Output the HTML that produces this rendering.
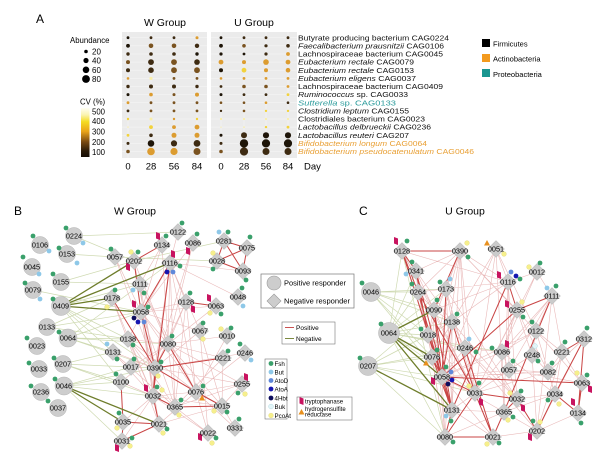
<!DOCTYPE html>
<html><head><meta charset="utf-8">
<style>
html,body{margin:0;padding:0;background:#fff;}
svg{display:block;font-family:"Liberation Sans",Arial,sans-serif;}
.K{fill:#1e1508}.D{fill:#3e2b12}.B{fill:#7a5320}.O{fill:#dc9c30}.Y{fill:#f2d23c}.P{fill:#f9efaa}
.lg{stroke:#cfdab2;stroke-width:0.7;fill:none}
.dg{stroke:#6e7d2b;stroke-width:1.3;fill:none}
.lr{stroke:#e9b9b9;stroke-width:0.6;fill:none}
.dr{stroke:#c94444;stroke-width:1.0;fill:none}
.nc{fill:#cdcdcd;stroke:#b3b3b3;stroke-width:0.5}
.nl{font-size:7.3px;text-anchor:middle;fill:#000}
.sp{font-size:7.5px;fill:#111}
</style></head>
<body>
<svg width="600" height="455" viewBox="0 0 600 455" xmlns="http://www.w3.org/2000/svg">
<defs>
<polygon id="dm" points="0,-8.5 8.5,0 0,8.5 -8.5,0" fill="#cbcbcb" stroke="#b3b3b3" stroke-width="0.5"/>
<circle id="g" r="2.4" fill="#3aa06b"/>
<circle id="bu" r="2.4" fill="#8ec8e8"/>
<circle id="ad" r="2.4" fill="#5f88da"/>
<circle id="aa" r="2.4" fill="#1616b0"/>
<circle id="hb" r="2.4" fill="#0c0c5c"/>
<circle id="bk" r="2.4" fill="#e2f5f8" stroke="#9fd0dc" stroke-width="0.4"/>
<circle id="y" r="2.4" fill="#f6ef8c" stroke="#d8d070" stroke-width="0.3"/>
<polygon id="tp" points="-2,-4 2,-2.5 2,4 -2,2.5" fill="#c8135f"/>
<polygon id="tr" points="0,-3 3,2.5 -3,2.5" fill="#e8901e"/>
<linearGradient id="cv" x1="0" y1="0" x2="0" y2="1">
<stop offset="0" stop-color="#fffff4"/><stop offset="0.14" stop-color="#fbf4b0"/><stop offset="0.28" stop-color="#f5dc22"/><stop offset="0.48" stop-color="#e9a318"/><stop offset="0.69" stop-color="#7a4a12"/><stop offset="0.88" stop-color="#2a1a08"/><stop offset="1" stop-color="#140c04"/>
</linearGradient>
</defs>

<!-- ========== PANEL A ========== -->
<text x="36" y="23" font-size="12">A</text>
<text x="165" y="26" font-size="10.5" text-anchor="middle">W Group</text>
<text x="254" y="26" font-size="10.5" text-anchor="middle">U Group</text>
<rect x="122" y="32" width="85" height="126" fill="#ebebeb"/>
<rect x="211" y="32" width="86" height="126" fill="#ebebeb"/>
<g stroke="#f7f7f7" stroke-width="0.5">
<path d="M122 37.7H207M122 45.8H207M122 54H207M122 62.1H207M122 70.2H207M122 78.4H207M122 86.5H207M122 94.6H207M122 102.7H207M122 110.9H207M122 119H207M122 127.1H207M122 135.3H207M122 143.4H207M122 151.5H207"/>
<path d="M211 37.7H297M211 45.8H297M211 54H297M211 62.1H297M211 70.2H297M211 78.4H297M211 86.5H297M211 94.6H297M211 102.7H297M211 110.9H297M211 119H297M211 127.1H297M211 135.3H297M211 143.4H297M211 151.5H297"/>
<path d="M128 32V158M151 32V158M174 32V158M197 32V158M221 32V158M244 32V158M266 32V158M288 32V158"/>
</g>
<g>
<circle class="K" cx="128" cy="37.7" r="1.4"/><circle class="D" cx="151" cy="37.7" r="1.4"/><circle class="D" cx="174" cy="37.7" r="1.4"/><circle class="O" cx="197" cy="37.7" r="1.5"/><circle class="K" cx="221" cy="37.7" r="1.4"/><circle class="D" cx="244" cy="37.7" r="1.4"/><circle class="D" cx="266" cy="37.7" r="1.4"/><circle class="D" cx="288" cy="37.7" r="1.4"/>
<circle class="K" cx="128" cy="45.8" r="1.9"/><circle class="B" cx="151" cy="45.8" r="2.3"/><circle class="B" cx="174" cy="45.8" r="2.3"/><circle class="D" cx="197" cy="45.8" r="2.2"/><circle class="K" cx="221" cy="45.8" r="1.9"/><circle class="B" cx="244" cy="45.8" r="1.8"/><circle class="D" cx="266" cy="45.8" r="1.6"/><circle class="D" cx="288" cy="45.8" r="1.8"/>
<circle class="D" cx="128" cy="54" r="1.7"/><circle class="D" cx="151" cy="54" r="1.8"/><circle class="D" cx="174" cy="54" r="1.8"/><circle class="K" cx="197" cy="54" r="1.7"/><circle class="K" cx="221" cy="54" r="1.6"/><circle class="K" cx="244" cy="54" r="1.4"/><circle class="D" cx="266" cy="54" r="1.6"/><circle class="O" cx="288" cy="54" r="1.9"/>
<circle class="B" cx="128" cy="62.1" r="2"/><circle class="D" cx="151" cy="62.1" r="2.9"/><circle class="B" cx="174" cy="62.1" r="2.9"/><circle class="D" cx="197" cy="62.1" r="2.8"/><circle class="O" cx="221" cy="62.1" r="2.4"/><circle class="O" cx="244" cy="62.1" r="2"/><circle class="O" cx="266" cy="62.1" r="2.8"/><circle class="O" cx="288" cy="62.1" r="2.4"/>
<circle class="D" cx="128" cy="70.2" r="2"/><circle class="D" cx="151" cy="70.2" r="2.8"/><circle class="B" cx="174" cy="70.2" r="2.9"/><circle class="B" cx="197" cy="70.2" r="2.9"/><circle class="K" cx="221" cy="70.2" r="2"/><circle class="Y" cx="244" cy="70.2" r="2.4"/><circle class="O" cx="266" cy="70.2" r="2"/><circle class="O" cx="288" cy="70.2" r="2.3"/>
<circle class="O" cx="128" cy="78.4" r="1.3"/><circle class="P" cx="151" cy="78.4" r="1.6"/><circle class="B" cx="174" cy="78.4" r="1.4"/><circle class="B" cx="197" cy="78.4" r="1.4"/><circle class="O" cx="221" cy="78.4" r="1.3"/><circle class="O" cx="244" cy="78.4" r="1.4"/><circle class="O" cx="266" cy="78.4" r="1.4"/><circle class="O" cx="288" cy="78.4" r="1.4"/>
<circle class="D" cx="128" cy="86.5" r="1.7"/><circle class="D" cx="151" cy="86.5" r="2"/><circle class="D" cx="174" cy="86.5" r="2"/><circle class="D" cx="197" cy="86.5" r="1.7"/><circle class="D" cx="221" cy="86.5" r="1.4"/><circle class="B" cx="244" cy="86.5" r="1.8"/><circle class="B" cx="266" cy="86.5" r="1.8"/><circle class="O" cx="288" cy="86.5" r="1.4"/>
<circle class="K" cx="128" cy="94.6" r="1.5"/><circle class="O" cx="151" cy="94.6" r="1.8"/><circle class="B" cx="174" cy="94.6" r="1.5"/><circle class="O" cx="197" cy="94.6" r="2"/><circle class="K" cx="221" cy="94.6" r="1.5"/><circle class="D" cx="244" cy="94.6" r="1.4"/><circle class="D" cx="266" cy="94.6" r="1.4"/><circle class="Y" cx="288" cy="94.6" r="1.4"/>
<circle class="O" cx="128" cy="102.7" r="1.4"/><circle class="B" cx="151" cy="102.7" r="1.4"/><circle class="B" cx="174" cy="102.7" r="1.4"/><circle class="B" cx="197" cy="102.7" r="1.4"/><circle class="B" cx="221" cy="102.7" r="1.3"/><circle class="B" cx="244" cy="102.7" r="1.3"/><circle class="O" cx="266" cy="102.7" r="1.3"/><circle class="D" cx="288" cy="102.7" r="1.3"/>
<circle class="D" cx="128" cy="110.9" r="1.4"/><circle class="B" cx="151" cy="110.9" r="1.4"/><circle class="B" cx="174" cy="110.9" r="1.4"/><circle class="B" cx="197" cy="110.9" r="1.4"/><circle class="D" cx="221" cy="110.9" r="1.2"/><circle class="B" cx="244" cy="110.9" r="1.3"/><circle class="Y" cx="266" cy="110.9" r="1.2"/><circle class="Y" cx="288" cy="110.9" r="1.2"/>
<circle class="Y" cx="128" cy="119" r="1.2"/><circle class="P" cx="151" cy="119" r="1.5"/><circle class="O" cx="174" cy="119" r="1.2"/><circle class="Y" cx="197" cy="119" r="1.2"/><circle class="P" cx="221" cy="119" r="1.1"/><circle class="P" cx="244" cy="119" r="1.1"/><circle class="P" cx="266" cy="119" r="1.1"/><circle class="P" cx="288" cy="119" r="1.1"/>
<circle class="P" cx="128" cy="127.1" r="0.7"/><circle class="Y" cx="151" cy="127.1" r="1.9"/><circle class="O" cx="174" cy="127.1" r="1.9"/><circle class="O" cx="197" cy="127.1" r="2.4"/><circle class="P" cx="221" cy="127.1" r="0.6"/><circle class="P" cx="244" cy="127.1" r="0.8"/><circle class="Y" cx="266" cy="127.1" r="1.2"/><circle class="Y" cx="288" cy="127.1" r="1.4"/>
<circle class="Y" cx="128" cy="135.3" r="1.4"/><circle class="D" cx="151" cy="135.3" r="1.8"/><circle class="O" cx="174" cy="135.3" r="2.5"/><circle class="O" cx="197" cy="135.3" r="2.5"/><circle class="K" cx="221" cy="135.3" r="1.5"/><circle class="D" cx="244" cy="135.3" r="3"/><circle class="K" cx="266" cy="135.3" r="3.1"/><circle class="K" cx="288" cy="135.3" r="3.1"/>
<circle class="D" cx="128" cy="143.4" r="1.5"/><circle class="K" cx="151" cy="143.4" r="3.3"/><circle class="D" cx="174" cy="143.4" r="3.1"/><circle class="D" cx="197" cy="143.4" r="3.4"/><circle class="D" cx="221" cy="143.4" r="1.5"/><circle class="K" cx="244" cy="143.4" r="4.2"/><circle class="K" cx="266" cy="143.4" r="4.1"/><circle class="K" cx="288" cy="143.4" r="4.1"/>
<circle class="B" cx="128" cy="151.5" r="1.8"/><circle class="O" cx="151" cy="151.5" r="3.8"/><circle class="O" cx="174" cy="151.5" r="3.6"/><circle class="B" cx="197" cy="151.5" r="3.5"/><circle class="B" cx="221" cy="151.5" r="1.8"/><circle class="D" cx="244" cy="151.5" r="4.1"/><circle class="D" cx="266" cy="151.5" r="3.5"/><circle class="D" cx="288" cy="151.5" r="3.5"/>
</g>
<g font-size="9.5" text-anchor="middle">
<text x="128" y="169.5">0</text><text x="151" y="169.5">28</text><text x="174" y="169.5">56</text><text x="197" y="169.5">84</text>
<text x="221" y="169.5">0</text><text x="244" y="169.5">28</text><text x="266" y="169.5">56</text><text x="288" y="169.5">84</text>
</g>
<text x="304" y="169.5" font-size="9.5">Day</text>
<text class="sp" x="298" y="40.3" textLength="151" lengthAdjust="spacingAndGlyphs">Butyrate producing bacterium CAG0224</text>
<text class="sp" x="298" y="48.4" textLength="146" lengthAdjust="spacingAndGlyphs"><tspan font-style="italic">Faecalibacterium prausnitzii</tspan> CAG0106</text>
<text class="sp" x="298" y="56.6" textLength="145" lengthAdjust="spacingAndGlyphs">Lachnospiraceae bacterium CAG0045</text>
<text class="sp" x="298" y="64.7" textLength="116" lengthAdjust="spacingAndGlyphs"><tspan font-style="italic">Eubacterium rectale</tspan> CAG0079</text>
<text class="sp" x="298" y="72.8" textLength="116" lengthAdjust="spacingAndGlyphs"><tspan font-style="italic">Eubacterium rectale</tspan> CAG0153</text>
<text class="sp" x="298" y="81" textLength="118" lengthAdjust="spacingAndGlyphs"><tspan font-style="italic">Eubacterium eligens</tspan> CAG0037</text>
<text class="sp" x="298" y="89.1" textLength="145" lengthAdjust="spacingAndGlyphs">Lachnospiraceae bacterium CAG0409</text>
<text class="sp" x="298" y="97.2" textLength="110" lengthAdjust="spacingAndGlyphs"><tspan font-style="italic">Ruminococcus</tspan> sp. CAG0033</text>
<text class="sp" x="298" y="105.3" textLength="98" lengthAdjust="spacingAndGlyphs" style="fill:#2a9b9b"><tspan font-style="italic">Sutterella</tspan> sp. CAG0133</text>
<text class="sp" x="298" y="113.5" textLength="111" lengthAdjust="spacingAndGlyphs"><tspan font-style="italic">Clostridium leptum</tspan> CAG0155</text>
<text class="sp" x="298" y="121.6" textLength="127" lengthAdjust="spacingAndGlyphs">Clostridiales bacterium CAG0023</text>
<text class="sp" x="298" y="129.7" textLength="133" lengthAdjust="spacingAndGlyphs"><tspan font-style="italic">Lactobacillus delbrueckii</tspan> CAG0236</text>
<text class="sp" x="298" y="137.9" textLength="111" lengthAdjust="spacingAndGlyphs"><tspan font-style="italic">Lactobacillus reuteri</tspan> CAG207</text>
<text class="sp" x="298" y="146" textLength="129" lengthAdjust="spacingAndGlyphs" style="fill:#e9a035"><tspan font-style="italic">Bifidobacterium longum</tspan> CAG0064</text>
<text class="sp" x="298" y="154.1" textLength="176" lengthAdjust="spacingAndGlyphs" style="fill:#e9a035"><tspan font-style="italic">Bifidobacterium pseudocatenulatum</tspan> CAG0046</text>
<rect x="482" y="39" width="8" height="8" fill="#000"/>
<rect x="482" y="54" width="8" height="8" fill="#f39a1e"/>
<rect x="482" y="69" width="8" height="8" fill="#1a9690"/>
<text x="493" y="46.3" font-size="7.5">Firmicutes</text>
<text x="493" y="61.5" font-size="7.5">Actinobacteria</text>
<text x="493" y="76.8" font-size="7.5">Proteobacteria</text>
<text x="70" y="43" font-size="7.8">Abundance</text>
<circle cx="86" cy="51.5" r="1.8" fill="#000"/><circle cx="86" cy="60.5" r="2.6" fill="#000"/><circle cx="86" cy="69.8" r="3.3" fill="#000"/><circle cx="86" cy="79" r="3.9" fill="#000"/>
<g font-size="8"><text x="92" y="54.5">20</text><text x="92" y="63.5">40</text><text x="92" y="72.8">60</text><text x="92" y="82">80</text></g>
<text x="80" y="104.5" font-size="7.8">CV (%)</text>
<rect x="81" y="108" width="8.5" height="49" fill="url(#cv)"/>
<g font-size="7.8"><text x="92" y="114.5">500</text><text x="92" y="124">400</text><text x="92" y="134.5">300</text><text x="92" y="144.8">200</text><text x="92" y="155">100</text></g>

<!-- ========== PANEL B ========== -->
<text x="14" y="215" font-size="12">B</text>
<text x="135" y="214.5" font-size="10.5" text-anchor="middle">W Group</text>
<path class="lg" d="M74 236L134 261M74 236L178 232M67 254L115 257M61 282L140 284M61 282L134 261M61 306L140 284M61 306L113 352M61 306L128 339M61 306L121 382M61 306L155 368M47 327L112 298M47 327L141 312M68 338L128 339M68 338L141 312M68 338L113 352M68 338L155 368M68 338L168 344M63 364L113 352M63 364L121 382M63 364L155 368M63 364L131 367M63 364L153 396M64 386L121 382M64 386L153 396M64 386L122 441M64 386L131 367M64 386L155 368M33 290L141 312M134 261L224 241M115 257L217 261M47 327L128 339M68 338L170 263"/>
<path class="lr" d="M141 312L168 344M141 312L186 302M141 312L200 331M141 312L196 392M141 312L153 396M141 312L159 424M141 312L175 407M170 263L168 344M170 263L155 368M170 263L175 407M170 263L186 302M170 263L200 331M170 263L196 392M170 263L128 339M162 245L141 312M162 245L140 284M193 243L141 312M193 243L168 344M178 232L170 263M140 284L155 368M140 284L168 344M140 284L153 396M140 284L196 392M128 339L155 368M128 339L196 392M128 339L153 396M128 339L175 407M168 344L223 358M168 344L222 406M168 344L242 384M168 344L175 407M155 368L222 406M155 368L242 384M155 368L245 353M153 396L196 392M153 396L222 406M175 407L208 433M175 407L242 384M196 392L208 433M196 392L235 428M196 392L245 353M196 392L242 384M200 331L222 406M200 331L208 433M227 336L196 392M223 358L175 407M223 358L222 406M121 382L153 396M121 382L168 344M131 367L168 344M113 352L153 396M113 352L175 407M159 424L196 392M159 424L222 406M122 441L153 396M186 302L155 368M186 302L175 407M186 302L168 344M216 306L141 312M238 297L170 263M134 261L155 368M134 261L168 344M112 298L153 396M112 298L159 424M193 243L155 368M243 271L170 263M115 257L141 312M115 257L155 368M162 245L168 344M227 336L168 344M242 384L222 406M235 428L222 406M208 433L153 396M123 422L153 396M216 306L168 344M186 302L196 392M200 331L155 368M113 352L155 368M128 339L168 344"/>
<path class="dr" d="M134 261L141 312M170 263L141 312M112 298L155 368M141 312L155 368M170 263L153 396M162 245L134 261M224 241L217 261M224 241L243 271M247 248L217 261M247 248L243 271M217 261L243 271M224 241L247 248M155 368L196 392M153 396L175 407M175 407L222 406M159 424L123 422M153 396L159 424M122 441L123 422M155 368L168 344M196 392L222 406M168 344L196 392M186 302L216 306M155 368L223 358M155 368L153 396M121 382L123 422M122 441L159 424"/>
<path class="dg" d="M61 306L134 261M61 306L170 263M61 306L141 312M61 306L112 298M64 386L159 424M64 386L123 422"/>
<g class="nc">
<circle cx="40" cy="245" r="8.5"/><circle cx="74" cy="236" r="8.5"/><circle cx="67" cy="254" r="8.5"/><circle cx="32" cy="267" r="8.5"/><circle cx="61" cy="282" r="8.5"/><circle cx="33" cy="290" r="8.5"/><circle cx="61" cy="306" r="9.5"/><circle cx="47" cy="327" r="8.5"/><circle cx="68" cy="338" r="9"/><circle cx="37" cy="346" r="8.5"/><circle cx="63" cy="364" r="8.5"/><circle cx="39" cy="369" r="8.5"/><circle cx="64" cy="386" r="9"/><circle cx="41" cy="392" r="8.5"/><circle cx="58" cy="408" r="8.5"/>
</g>
<g>
<use href="#dm" x="115" y="257"/><use href="#dm" x="134" y="261"/><use href="#dm" x="162" y="245"/><use href="#dm" x="178" y="232"/><use href="#dm" x="193" y="243"/><use href="#dm" x="170" y="263"/><use href="#dm" x="140" y="284"/><use href="#dm" x="112" y="298"/><use href="#dm" x="141" y="312"/><use href="#dm" x="186" y="302"/><use href="#dm" x="224" y="241"/><use href="#dm" x="247" y="248"/><use href="#dm" x="217" y="261"/><use href="#dm" x="243" y="271"/><use href="#dm" x="216" y="306"/><use href="#dm" x="238" y="297"/><use href="#dm" x="200" y="331"/><use href="#dm" x="227" y="336"/><use href="#dm" x="128" y="339"/><use href="#dm" x="168" y="344"/><use href="#dm" x="113" y="352"/><use href="#dm" x="131" y="367"/><use href="#dm" x="155" y="368"/><use href="#dm" x="121" y="382"/><use href="#dm" x="153" y="396"/><use href="#dm" x="196" y="392"/><use href="#dm" x="175" y="407"/><use href="#dm" x="123" y="422"/><use href="#dm" x="159" y="424"/><use href="#dm" x="122" y="441"/><use href="#dm" x="223" y="358"/><use href="#dm" x="245" y="353"/><use href="#dm" x="242" y="384"/><use href="#dm" x="222" y="406"/><use href="#dm" x="235" y="428"/><use href="#dm" x="208" y="433"/>
</g>
<g>
<use href="#g" x="33" y="236"/><use href="#bu" x="49" y="251"/>
<use href="#g" x="66" y="228"/><use href="#bu" x="83" y="243"/>
<use href="#g" x="59" y="248"/><use href="#bu" x="77" y="263"/>
<use href="#g" x="23" y="257"/><use href="#bu" x="39" y="274"/>
<use href="#g" x="53" y="274"/>
<use href="#g" x="25" y="283"/><use href="#bu" x="40" y="299"/>
<use href="#g" x="53" y="299"/>
<use href="#g" x="59" y="332"/><use href="#g" x="27" y="338"/><use href="#g" x="54" y="358"/><use href="#g" x="29" y="363"/><use href="#g" x="55" y="379"/><use href="#g" x="31" y="386"/><use href="#g" x="48" y="401"/>
<use href="#g" x="111" y="249"/>
<use href="#y" x="131" y="252"/><use href="#g" x="138" y="252"/><use href="#tp" x="128" y="267"/>
<use href="#tp" x="158" y="236"/><use href="#g" x="166" y="236"/>
<use href="#g" x="182" y="223"/>
<use href="#g" x="197" y="234"/><use href="#tp" x="188" y="251"/>
<use href="#tp" x="173" y="254"/><use href="#g" x="180" y="266"/><use href="#aa" x="167" y="272"/><use href="#ad" x="173" y="272"/>
<use href="#bu" x="133" y="290"/><use href="#g" x="144" y="293"/>
<use href="#g" x="115" y="290"/><use href="#y" x="107" y="307"/>
<use href="#tp" x="134" y="304"/><use href="#g" x="148" y="307"/><use href="#hb" x="134" y="318"/><use href="#aa" x="138" y="322"/><use href="#ad" x="144" y="322"/>
<use href="#g" x="190" y="293"/><use href="#tp" x="193" y="309"/>
<use href="#bu" x="219" y="232"/><use href="#g" x="228" y="232"/>
<use href="#g" x="250" y="237"/>
<use href="#y" x="213" y="253"/><use href="#g" x="213" y="269"/>
<use href="#g" x="246" y="280"/>
<use href="#tp" x="209" y="298"/><use href="#y" x="210" y="313"/><use href="#g" x="221" y="314"/>
<use href="#g" x="242" y="288"/><use href="#bu" x="243" y="306"/>
<use href="#g" x="203" y="323"/><use href="#y" x="203" y="339"/>
<use href="#y" x="221" y="329"/><use href="#g" x="231" y="328"/>
<use href="#g" x="133" y="345"/>
<use href="#g" x="172" y="336"/>
<use href="#bu" x="107" y="344"/><use href="#g" x="117" y="359"/>
<use href="#g" x="134" y="359"/>
<use href="#g" x="161" y="362"/><use href="#y" x="158" y="376"/>
<use href="#g" x="116" y="374"/>
<use href="#tp" x="146" y="388"/><use href="#g" x="157" y="387"/><use href="#y" x="162" y="390"/>
<use href="#g" x="181" y="400"/><use href="#y" x="179" y="415"/>
<use href="#g" x="119" y="413"/><use href="#y" x="117" y="428"/>
<use href="#g" x="167" y="429"/><use href="#y" x="163" y="433"/>
<use href="#g" x="132" y="438"/><use href="#y" x="130" y="446"/><use href="#tp" x="117" y="448"/>
<use href="#g" x="228" y="351"/>
<use href="#g" x="240" y="344"/><use href="#bu" x="251" y="360"/>
<use href="#tp" x="246" y="377"/><use href="#g" x="238" y="393"/><use href="#y" x="245" y="394"/>
<use href="#g" x="203" y="386"/><use href="#tr" x="202" y="398"/>
<use href="#y" x="214" y="411"/><use href="#g" x="227" y="412"/>
<use href="#g" x="239" y="419"/>
<use href="#tp" x="200" y="437"/><use href="#g" x="216" y="438"/><use href="#y" x="212" y="443"/>
</g>
<g class="nl">
<text x="40" y="247.5">0106</text><text x="74" y="238.5">0224</text><text x="67" y="256.5">0153</text><text x="32" y="269.5">0045</text><text x="61" y="284.5">0155</text><text x="33" y="292.5">0079</text><text x="61" y="308.5">0409</text><text x="47" y="329.5">0133</text><text x="68" y="340.5">0064</text><text x="37" y="348.5">0023</text><text x="63" y="366.5">0207</text><text x="39" y="371.5">0033</text><text x="64" y="388.5">0046</text><text x="41" y="394.5">0236</text><text x="58" y="410.5">0037</text>
<text x="115" y="259.5">0057</text><text x="134" y="263.5">0202</text><text x="162" y="247.5">0134</text><text x="178" y="234.5">0122</text><text x="193" y="245.5">0086</text><text x="170" y="265.5">0116</text><text x="140" y="286.5">0111</text><text x="112" y="300.5">0178</text><text x="141" y="314.5">0058</text><text x="186" y="304.5">0128</text><text x="224" y="243.5">0281</text><text x="247" y="250.5">0075</text><text x="217" y="263.5">0028</text><text x="243" y="273.5">0093</text><text x="216" y="308.5">0063</text><text x="238" y="299.5">0048</text><text x="200" y="333.5">0067</text><text x="227" y="338.5">0010</text><text x="128" y="341.5">0138</text><text x="168" y="346.5">0080</text><text x="113" y="354.5">0131</text><text x="131" y="369.5">0017</text><text x="155" y="370.5">0390</text><text x="121" y="384.5">0100</text><text x="153" y="398.5">0032</text><text x="196" y="394.5">0076</text><text x="175" y="409.5">0365</text><text x="123" y="424.5">0035</text><text x="159" y="426.5">0021</text><text x="122" y="443.5">0031</text><text x="223" y="360.5">0221</text><text x="245" y="355.5">0246</text><text x="242" y="386.5">0255</text><text x="222" y="408.5">0015</text><text x="235" y="430.5">0331</text><text x="208" y="435.5">0022</text>
</g>

<!-- ========== LEGENDS ========== -->
<rect x="261" y="274" width="93" height="34" fill="#fff" stroke="#777" stroke-width="0.7"/>
<circle cx="274" cy="283" r="7" fill="#cdcdcd" stroke="#999" stroke-width="0.6"/>
<polygon points="274,294 281,301 274,308 267,301" fill="#cdcdcd" stroke="#999" stroke-width="0.6"/>
<text x="284" y="285.5" font-size="7" textLength="62" lengthAdjust="spacingAndGlyphs">Positive responder</text>
<text x="284" y="303.5" font-size="7" textLength="66" lengthAdjust="spacingAndGlyphs">Negative responder</text>
<rect x="282" y="322" width="53" height="22" fill="#fff" stroke="#777" stroke-width="0.6"/>
<line x1="285" y1="327.5" x2="294" y2="327.5" stroke="#c63e3e" stroke-width="0.9"/>
<line x1="285" y1="338.5" x2="294" y2="338.5" stroke="#6e7d2b" stroke-width="0.9"/>
<text x="296" y="330" font-size="6.5">Positive</text>
<text x="296" y="341" font-size="6.5">Negative</text>
<rect x="265" y="359" width="22" height="60" fill="#fff" stroke="#777" stroke-width="0.6"/>
<use href="#g" x="271" y="363.5"/><use href="#bu" x="271" y="372"/><use href="#ad" x="271" y="380.5"/><use href="#aa" x="271" y="389"/><use href="#hb" x="271" y="398"/><use href="#bk" x="271" y="406.5"/><use href="#y" x="271" y="415.5"/>
<g font-size="6.2">
<text x="274.5" y="366">Fsh</text><text x="274.5" y="374.5">But</text><text x="274.5" y="383">AtoD</text><text x="274.5" y="391.5">AtoA</text><text x="274.5" y="400.5">4Hbt</text><text x="274.5" y="409">Buk</text><text x="274.5" y="418">PcoAt</text>
</g>
<rect x="297" y="397" width="55" height="23" fill="#fff" stroke="#777" stroke-width="0.6"/>
<use href="#tp" x="301.5" y="401"/>
<use href="#tr" x="301.5" y="412"/>
<text x="305" y="403.5" font-size="6">tryptophanase</text>
<text x="305" y="411" font-size="6">hydrogensulfite</text>
<text x="305" y="416.5" font-size="6">reductase</text>

<!-- ========== PANEL C ========== -->
<text x="359" y="215" font-size="12">C</text>
<text x="465" y="214.5" font-size="10.5" text-anchor="middle">U Group</text>
<path class="lg" d="M389 333L402 251M389 333L418 292M389 333L416 271M389 333L446 289M389 333L452 322M389 333L428 335M389 333L445 437M389 333L465 348M389 333L502 352M371 292L418 292M371 292L434 310M371 292L428 335M371 292L452 322M371 292L446 289M371 292L432 357M368 366L442 377M368 366L432 357M368 366L428 335M368 366L445 437M368 366L475 393M368 366L465 348M368 366L434 310M402 251L452 410M402 251L445 437M389 333L475 393M371 292L442 377M368 366L452 322"/>
<path class="lr" d="M402 251L416 271M402 251L434 310M402 251L428 335M402 251L452 322M402 251L508 282M460 251L416 271M460 251L418 292M460 251L446 289M460 251L428 335M460 251L432 357M460 251L442 377M460 251L452 410M460 251L508 282M460 251L517 310M460 251L465 348M496 249L508 282M496 249L452 322M496 249L442 377M496 249L475 393M496 249L504 412M537 272L508 282M537 272L552 296M537 272L502 352M508 282L418 292M508 282L434 310M508 282L452 322M508 282L509 370M508 282L517 399M508 282L504 412M552 296L536 331M552 296L502 352M552 296L509 370M552 296L562 352M552 296L537 431M552 296L475 393M517 310L475 393M517 310L502 352M517 310L532 355M517 310L548 372M536 331L442 377M536 331L502 352M536 331L532 355M536 331L562 352M536 331L582 383M536 331L555 394M465 348L442 377M465 348L475 393M465 348L517 399M465 348L502 352M502 352L442 377M502 352L509 370M502 352L555 394M502 352L504 412M532 355L509 370M532 355L548 372M532 355L537 431M562 352L548 372M562 352L555 394M562 352L537 431M562 352L582 383M509 370L475 393M509 370L517 399M509 370L548 372M509 370L582 383M548 372L555 394M582 383L578 413M517 399L555 394M517 399L537 431M504 412L537 431M504 412L452 410M504 412L445 437M493 437L537 431M493 437L452 410M452 410L475 393M446 289L434 310M446 289L452 322M446 289L452 410M446 289L475 393M418 292L434 310M418 292L428 335M418 292L432 357M418 292L452 410M434 310L452 322M434 310L428 335M434 310L432 357M434 310L475 393M434 310L445 437M452 322L432 357M452 322L452 410M452 322L445 437M452 322L465 348M428 335L432 357M428 335L442 377M428 335L445 437M432 357L445 437M416 271L418 292M416 271L434 310M416 271L432 357M442 377L509 370M442 377L548 372M442 377L504 412M442 377L493 437M442 377L445 437M584 339L548 372M584 339L537 431M578 413L537 431M555 394L504 412M460 251L536 331M460 251L475 393M402 251L475 393M446 289L517 399M496 249L536 331M537 272L475 393M465 348L537 431M475 393L548 372M428 335L475 393M452 322L517 399"/>
<path class="dr" d="M402 251L460 251M418 292L442 377M418 292L475 393M434 310L442 377M434 310L452 410M416 271L428 335M428 335L452 410M452 322L475 393M452 322L442 377M432 357L442 377M442 377L582 383M442 377L475 393M475 393L517 399M475 393L493 437M475 393L445 437M452 410L445 437M445 437L493 437M504 412L517 399M504 412L493 437M517 310L552 296M508 282L517 310M552 296L504 412M537 431L555 394M537 431L517 399M562 352L584 339M584 339L555 394M584 339L578 413M555 394L578 413M517 310L442 377M508 282L452 410M460 251L434 310M446 289L442 377M416 271L452 410M402 251L418 292M402 251L416 271M432 357L452 410M465 348L493 437M582 383L578 413M402 251L442 377"/>
<path class="dg" d="M389 333L442 377M389 333L452 410M368 366L452 410M389 333L434 310M389 333L432 357"/>
<g class="nc">
<circle cx="371" cy="292" r="9.5"/><circle cx="389" cy="333" r="10.5"/><circle cx="368" cy="366" r="9.5"/>
</g>
<g>
<use href="#dm" x="402" y="251"/><use href="#dm" x="460" y="251"/><use href="#dm" x="496" y="249"/><use href="#dm" x="416" y="271"/><use href="#dm" x="537" y="272"/><use href="#dm" x="508" y="282"/><use href="#dm" x="418" y="292"/><use href="#dm" x="446" y="289"/><use href="#dm" x="552" y="296"/><use href="#dm" x="434" y="310"/><use href="#dm" x="517" y="310"/><use href="#dm" x="452" y="322"/><use href="#dm" x="536" y="331"/><use href="#dm" x="428" y="335"/><use href="#dm" x="584" y="339"/><use href="#dm" x="465" y="348"/><use href="#dm" x="502" y="352"/><use href="#dm" x="532" y="355"/><use href="#dm" x="562" y="352"/><use href="#dm" x="432" y="357"/><use href="#dm" x="509" y="370"/><use href="#dm" x="548" y="372"/><use href="#dm" x="582" y="383"/><use href="#dm" x="442" y="377"/><use href="#dm" x="475" y="393"/><use href="#dm" x="517" y="399"/><use href="#dm" x="555" y="394"/><use href="#dm" x="452" y="410"/><use href="#dm" x="504" y="412"/><use href="#dm" x="578" y="413"/><use href="#dm" x="537" y="431"/><use href="#dm" x="445" y="437"/><use href="#dm" x="493" y="437"/>
</g>
<g>
<use href="#tp" x="396" y="241"/><use href="#g" x="407" y="241"/>
<use href="#g" x="412" y="262"/><use href="#bu" x="406" y="274"/>
<use href="#g" x="362" y="283"/>
<use href="#g" x="412" y="284"/>
<use href="#g" x="440" y="282"/><use href="#bu" x="450" y="279"/>
<use href="#g" x="437" y="300"/>
<use href="#g" x="457" y="314"/>
<use href="#g" x="381" y="324"/>
<use href="#g" x="360" y="358"/>
<use href="#g" x="421" y="329"/>
<use href="#g" x="437" y="350"/><use href="#tr" x="426" y="363"/>
<use href="#y" x="467" y="243"/><use href="#g" x="468" y="257"/>
<use href="#tr" x="487" y="243"/><use href="#y" x="504" y="254"/>
<use href="#y" x="529" y="267"/><use href="#g" x="540" y="263"/>
<use href="#tp" x="499" y="275"/><use href="#ad" x="511" y="272"/><use href="#aa" x="516" y="276"/><use href="#g" x="520" y="279"/>
<use href="#bu" x="547" y="288"/><use href="#g" x="556" y="286"/>
<use href="#tp" x="507" y="304"/><use href="#y" x="522" y="302"/><use href="#g" x="523" y="317"/>
<use href="#g" x="532" y="322"/>
<use href="#g" x="587" y="328"/>
<use href="#bu" x="469" y="339"/><use href="#g" x="476" y="352"/>
<use href="#g" x="492" y="348"/><use href="#tp" x="507" y="344"/>
<use href="#bk" x="535" y="346"/><use href="#g" x="538" y="361"/>
<use href="#g" x="565" y="342"/>
<use href="#g" x="513" y="361"/>
<use href="#g" x="552" y="363"/>
<use href="#y" x="577" y="373"/><use href="#g" x="587" y="375"/><use href="#tp" x="590" y="389"/>
<use href="#g" x="446" y="367"/><use href="#ad" x="451" y="372"/><use href="#aa" x="452" y="380"/><use href="#hb" x="448" y="384"/><use href="#tp" x="433" y="381"/>
<use href="#y" x="469" y="386"/><use href="#g" x="479" y="383"/><use href="#tp" x="481" y="402"/>
<use href="#y" x="510" y="393"/><use href="#g" x="521" y="391"/><use href="#tp" x="523" y="408"/>
<use href="#g" x="548" y="400"/><use href="#y" x="559" y="404"/>
<use href="#bu" x="446" y="416"/><use href="#g" x="451" y="421"/>
<use href="#y" x="508" y="420"/><use href="#g" x="513" y="417"/>
<use href="#tp" x="573" y="402"/><use href="#g" x="581" y="423"/>
<use href="#g" x="533" y="421"/><use href="#y" x="540" y="422"/><use href="#tp" x="530" y="437"/>
<use href="#g" x="453" y="442"/>
<use href="#y" x="487" y="444"/><use href="#g" x="499" y="443"/>
</g>
<g class="nl">
<text x="371" y="294.5">0046</text><text x="389" y="335.5">0064</text><text x="368" y="368.5">0207</text>
<text x="402" y="253.5">0128</text><text x="460" y="253.5">0390</text><text x="496" y="251.5">0051</text><text x="416" y="273.5">0341</text><text x="537" y="274.5">0012</text><text x="508" y="284.5">0116</text><text x="418" y="294.5">0264</text><text x="446" y="291.5">0173</text><text x="552" y="298.5">0111</text><text x="434" y="312.5">0090</text><text x="517" y="312.5">0255</text><text x="452" y="324.5">0138</text><text x="536" y="333.5">0122</text><text x="428" y="337.5">0018</text><text x="584" y="341.5">0312</text><text x="465" y="350.5">0246</text><text x="502" y="354.5">0086</text><text x="532" y="357.5">0248</text><text x="562" y="354.5">0221</text><text x="432" y="359.5">0076</text><text x="509" y="372.5">0057</text><text x="548" y="374.5">0082</text><text x="582" y="385.5">0063</text><text x="442" y="379.5">0058</text><text x="475" y="395.5">0031</text><text x="517" y="401.5">0032</text><text x="555" y="396.5">0034</text><text x="452" y="412.5">0131</text><text x="504" y="414.5">0365</text><text x="578" y="415.5">0134</text><text x="537" y="433.5">0202</text><text x="445" y="439.5">0080</text><text x="493" y="439.5">0021</text>
</g>
</svg>
</body></html>
